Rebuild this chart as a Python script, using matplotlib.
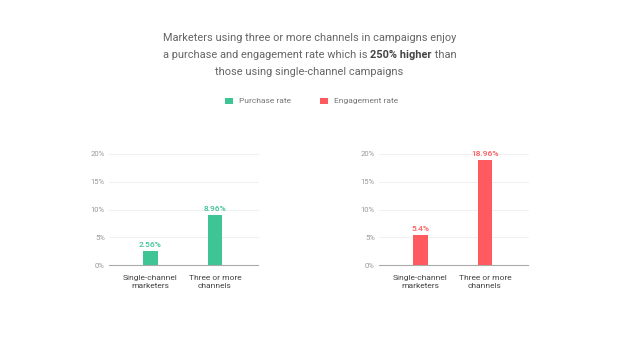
import matplotlib
matplotlib.use("Agg")
import matplotlib.pyplot as plt
from matplotlib.patches import Rectangle

categories = ["Single-channel\nmarketers", "Three or more\nchannels"]
purchase_rate = [2.56, 8.96]
engagement_rate = [5.4, 18.96]
purchase_labels = ["2.56%", "8.96%"]
engagement_labels = ["5.4%", "18.96%"]
yticks = [0, 5, 10, 15, 20]
ytick_labels = ["0%", "5%", "10%", "15%", "20%"]

GREEN = "#3FC495"
RED = "#FF5A5F"
FONT = "Roboto"

plt.rcParams['font.family'] = [FONT, 'DejaVu Sans']

W, H = 619, 344
fig = plt.figure(figsize=(W / 100, H / 100), dpi=100)
fig.patch.set_facecolor("white")


def px(x, y):
    return x / W, 1 - y / H


# Title
title_color = "#666666"
TS = 7.9
fig.text(0.5, 1 - 38 / H, "Marketers using three or more channels in campaigns enjoy",
         ha="center", va="center", fontsize=TS, color=title_color)
fig.text(0.5, 1 - 72 / H, "those using single-channel campaigns",
         ha="center", va="center", fontsize=TS, color=title_color)

# line 2 with bold segment
pieces = [("a purchase and engagement rate which is ", "normal", title_color),
          ("250% higher", "bold", "#444444"),
          (" than", "normal", title_color)]
texts = []
for s, w, c in pieces:
    t = fig.text(0, 1 - 55 / H, s, ha="left", va="center", fontsize=TS,
                 fontweight=w, color=c)
    texts.append(t)
fig.canvas.draw()
r = fig.canvas.get_renderer()
widths = [t.get_window_extent(r).width for t in texts]
total = sum(widths)
x0 = (W - total) / 2
for t, wd in zip(texts, widths):
    t.set_x(x0 / W)
    x0 += wd

# Legend
for (x, lab, col) in [(225, "Purchase rate", GREEN), (320, "Engagement rate", RED)]:
    fig.patches.append(Rectangle(px(x, 104), 8 / W, 6 / H, transform=fig.transFigure,
                                 facecolor=col, edgecolor="none"))
    fig.text((x + 14) / W, 1 - 101 / H, lab, ha="left", va="center",
             fontsize=6, color="#777777")


def make_axes(left_px, values, labels, color):
    ax = fig.add_axes([left_px / W, (H - 265) / H, 149 / W, 111 / H])
    xs = list(range(len(values)))
    ax.bar(xs, values, width=0.23, color=color, zorder=3)
    ax.set_xlim(-0.643, 1.667)
    ax.set_ylim(0, 20)
    ax.set_yticks(yticks)
    ax.set_yticklabels(ytick_labels)
    ax.set_xticks(xs)
    ax.set_xticklabels(categories, linespacing=1.45)
    ax.tick_params(axis="y", length=0, pad=3, labelsize=5.5, labelcolor="#999999")
    ax.tick_params(axis="x", length=0, pad=7, labelsize=6, labelcolor="#444444")
    for sp in ["top", "right", "left"]:
        ax.spines[sp].set_visible(False)
    ax.spines["bottom"].set_color("#AAAAAA")
    ax.spines["bottom"].set_linewidth(0.8)
    ax.grid(axis="y", color="#EEEEEE", linewidth=0.6, zorder=0)
    ax.set_axisbelow(True)
    for gl in ax.get_ygridlines():
        gl.set_clip_on(False)
    for x, v, lab in zip(xs, values, labels):
        ax.annotate(lab, (x, v), xytext=(0, 2), textcoords="offset points",
                    ha="center", va="bottom", fontsize=6, color=color, fontweight="medium")
    return ax


make_axes(109, purchase_rate, purchase_labels, GREEN)
make_axes(379, engagement_rate, engagement_labels, RED)

fig.savefig("out.png", dpi=100, facecolor="white")
